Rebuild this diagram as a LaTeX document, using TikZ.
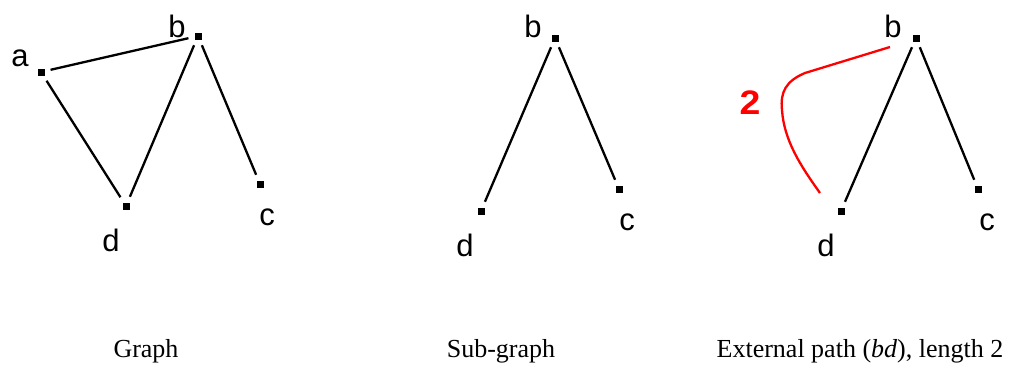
\documentclass[tikz,border=0pt]{standalone}
\usepackage{fontspec}
\setmainfont{Liberation Serif}
\newfontfamily\labfont{Liberation Sans}
\begin{document}
\begin{tikzpicture}[x=1pt,y=-1pt,
  vtx/.style={rectangle,fill=black,minimum size=7pt,inner sep=0pt},
  lab/.style={font=\labfont\fontsize{31}{31}\selectfont,inner sep=0pt},
  edge/.style={line width=2.3pt,shorten <=6pt,shorten >=6pt},
  captext/.style={font=\fontsize{26}{26}\selectfont,inner sep=0pt,anchor=base},
  redpath/.style={red,line width=2.3pt}]
\useasboundingbox (0,0) rectangle (1012,367);
% Panel 1
\node[vtx] (a1) at (41,72) {};
\node[vtx] (b1) at (198,36) {};
\node[vtx] (d1) at (126,206) {};
\node[vtx] (c1) at (260,184) {};
\node[lab] (la1) at (20,58) {a};
\node[lab] (lb1) at (177,26) {b};
\node[lab] (ld1) at (111,240) {d};
\node[lab] (lc1) at (267,217) {c};
\draw[edge] (a1) -- (b1);
\draw[edge] (a1) -- (d1);
\draw[edge] (b1) -- (d1);
\draw[edge] (b1) -- (c1);
% Panel 2
\node[vtx] (b2) at (555,38) {};
\node[vtx] (d2) at (481,211) {};
\node[vtx] (c2) at (619,189) {};
\node[lab] (lb2) at (533,26) {b};
\node[lab] (ld2) at (465,245) {d};
\node[lab] (lc2) at (627,222) {c};
\draw[edge] (b2) -- (d2);
\draw[edge] (b2) -- (c2);
% Panel 3
\node[vtx] (b3) at (916,38) {};
\node[vtx] (d3) at (841,211) {};
\node[vtx] (c3) at (978,189) {};
\node[lab] (lb3) at (893,26) {b};
\node[lab] (ld3) at (826,245) {d};
\node[lab] (lc3) at (987,222) {c};
\draw[edge] (b3) -- (d3);
\draw[edge] (b3) -- (c3);
\coordinate (r1) at (890,47);
\coordinate (r2) at (820,193);
\draw[redpath] (r1) -- (805,73) .. controls (786,81) and (780,92) .. (782,110)
  .. controls (784,140) and (800,165) .. (r2);
\node[lab,red,font=\labfont\bfseries\fontsize{34}{34}\selectfont,xscale=1.1] (two) at (750,103) {2};
% Captions
\node[captext] (cap1) at (146,357) {Graph};
\node[captext] (cap2) at (501,357) {Sub-graph};
\node[captext] (cap3) at (860,357) {External path (\textit{bd}), length 2};
\end{tikzpicture}
\end{document}
